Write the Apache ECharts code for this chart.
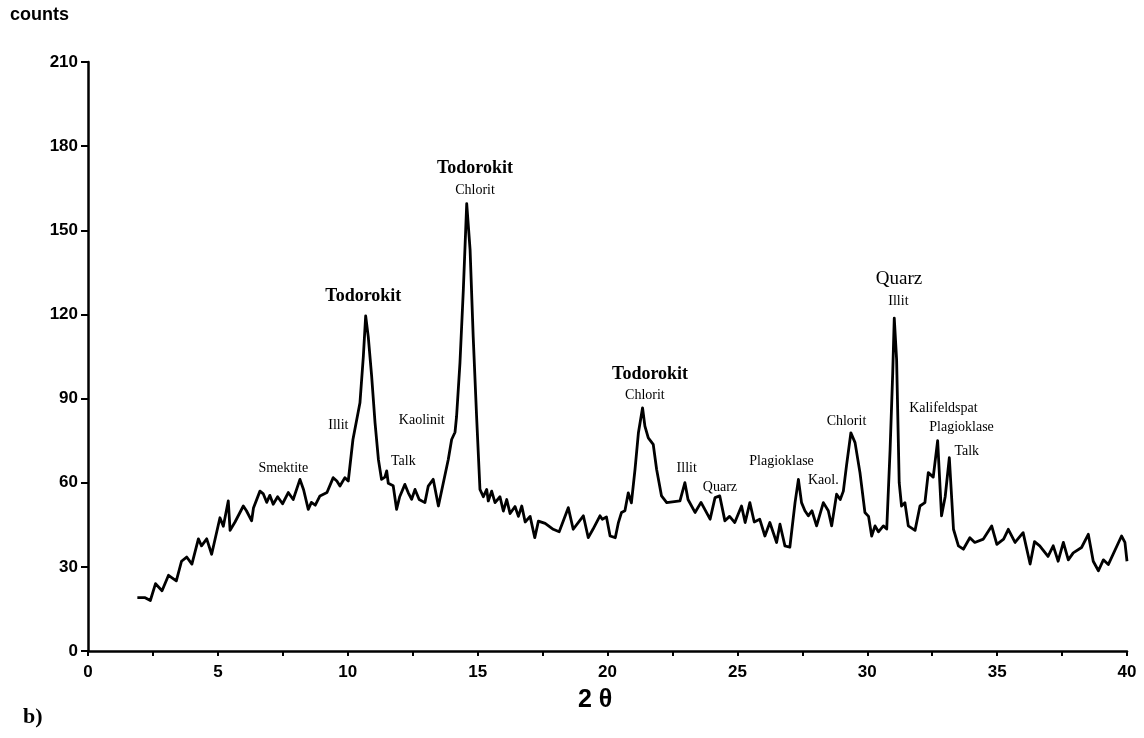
<!DOCTYPE html>
<html>
<head>
<meta charset="utf-8">
<script src="https://cdn.jsdelivr.net/npm/echarts@6/dist/echarts.min.js"></script>
<style>
html,body{margin:0;padding:0;background:#fff;}
#chart{width:1144px;height:738px;}
</style>
</head>
<body>
<div id="chart"></div>
<script>
// 2θ positions (degrees)
const twoTheta = [
1.9,2.2,2.4,2.6,2.85,3.1,3.4,3.6,3.8,4.0,4.25,4.37,4.57,4.76,5.08,5.21,5.4,5.47,5.66,5.98,
6.1,6.3,6.37,6.62,6.75,6.88,7.0,7.13,7.3,7.49,7.71,7.9,8.16,8.3,8.48,8.6,8.75,8.93,9.2,9.44,
9.58,9.7,9.89,10.02,10.2,10.47,10.6,10.69,10.79,10.92,11.05,11.18,11.3,11.43,11.5,11.56,11.75,11.88,12.0,12.2,
12.33,12.46,12.59,12.75,12.97,13.1,13.29,13.49,13.68,13.87,14.0,14.13,14.19,14.32,14.45,14.58,14.71,14.83,14.96,15.09,
15.22,15.35,15.41,15.54,15.67,15.86,15.99,16.12,16.25,16.44,16.57,16.7,16.83,17.02,17.2,17.34,17.6,17.91,18.14,18.49,
18.68,19.07,19.26,19.44,19.71,19.8,19.96,20.1,20.3,20.42,20.54,20.67,20.8,20.92,21.06,21.19,21.35,21.44,21.57,21.76,
21.89,22.08,22.28,22.79,22.98,23.1,23.37,23.6,23.95,24.14,24.32,24.52,24.7,24.9,25.16,25.3,25.48,25.65,25.86,26.06,
26.25,26.51,26.64,26.83,27.02,27.22,27.35,27.47,27.6,27.73,27.87,28.05,28.31,28.5,28.63,28.82,28.96,29.08,29.2,29.37,
29.53,29.72,29.91,30.05,30.17,30.3,30.43,30.62,30.75,30.88,30.98,31.04,31.13,31.23,31.32,31.45,31.58,31.84,32.03,32.22,
32.35,32.54,32.71,32.86,33.0,33.16,33.32,33.51,33.7,33.95,34.14,34.47,34.79,34.99,35.25,35.43,35.69,36.0,36.27,36.44,
36.64,36.96,37.16,37.35,37.55,37.74,37.93,38.25,38.51,38.7,38.9,39.09,39.28,39.79,39.92,40.0
];
// counts
const counts = [
19,19,18,24,21.5,27,25,32,33.5,31,40,37.5,40,34.5,47.5,44.5,53.5,43,46,51.7,
50,46.4,51,57,56,53,55.5,52.3,55,52.5,56.5,54,61.2,57.5,50.5,53,52,55.3,56.5,61.8,
60.6,58.8,61.8,60.6,75.4,88.5,105,119.5,112,98,81.4,68.3,61.2,62,64.2,59.8,58.9,50.5,55,59.4,
56.4,54.1,57.6,54,52.9,58.8,61.2,51.7,60,68.3,75.4,78,83.7,102.7,128.8,159.5,143,112,83.7,57.6,
55,57.6,53.5,57,52.9,55,49.9,54,49,51.5,48,51.7,46,48,40.4,46.3,45.5,43.4,42.5,51.1,
43.4,48.2,40.4,43.4,48.2,47,47.8,41,40.4,45.8,49.4,50,56.4,52.8,64.8,77.8,86.7,80.2,76,73.7,
64.8,55.3,52.9,53.5,60,54,49.4,53,47,54.7,55.3,46.4,48,45.8,51.7,45.8,52.9,46,47,41,
45.8,38.7,45.2,37.5,37,52.9,61.2,52.9,50,48.2,50,44.6,52.9,50,44.6,55.9,54,57,66,77.8,
74.3,63.6,49.4,48,41,44.6,42.5,44.6,43.5,71.9,99,118.7,104,60,51.7,52.9,44.6,43,51.7,52.9,
63.6,62,75,48.2,55,68.9,43.4,37.5,36.3,40.4,38.7,39.9,44.6,38,39.9,43.4,38.7,42.2,31,39,
37.5,33.7,37.5,32,38.7,32.5,35,36.9,41.6,32,28.6,32.5,30.8,41,38.7,32
];
// peak annotations
const peakNames = ['Todorokit','Todorokit','Chlorit','Todorokit','Chlorit','Quarz','Illit','Smektite','Illit','Kaolinit','Talk','Illit','Quarz','Plagioklase','Kaol.','Chlorit','Kalifeldspat','Plagioklase','Talk'];
const peakX = [10.6,14.9,14.9,21.64,21.44,31.22,31.2,7.52,9.64,12.85,12.14,23.05,24.33,26.7,28.31,29.2,32.93,33.63,33.83];
const peakY = [126.3,172,164.4,98.6,91.1,132.6,124.7,65,80.4,82.3,67.5,65,58.2,67.7,60.9,82,86.4,79.6,71.3];
const peakKind = ['bold','bold','small','bold','small','large','small','small','small','small','small','small','small','small','small','small','small','small','small'];
const yTicks = [0,30,60,90,120,150,180,210];

const serif = '"Liberation Serif","DejaVu Serif",serif';
const sans = '"Liberation Sans","DejaVu Sans",sans-serif';
const kindStyle = {
  bold: {fontSize: 18, fontWeight: 'bold'},
  large: {fontSize: 19, fontWeight: 'normal'},
  small: {fontSize: 14, fontWeight: 'normal'}
};

const lineData = twoTheta.map((x, i) => [x, counts[i]]);
const annData = peakNames.map((n, i) => ({
  name: n,
  value: [peakX[i], peakY[i]],
  label: Object.assign({color: '#000'}, kindStyle[peakKind[i]])
}));

const chart = echarts.init(document.getElementById('chart'), null, {renderer: 'canvas'});
chart.setOption({
  backgroundColor: '#ffffff',
  animation: false,
  grid: {left: 88, right: 17, top: 62, bottom: 87},
  xAxis: {
    type: 'value', min: 0, max: 40, interval: 5,
    axisLine: {show: true, lineStyle: {color: '#000', width: 2.5}},
    axisTick: {show: true, length: 5, lineStyle: {color: '#000', width: 2}},
    minorTick: {show: true, splitNumber: 2, length: 5, lineStyle: {color: '#000', width: 2}},
    splitLine: {show: false},
    axisLabel: {color: '#000', fontFamily: sans, fontWeight: 'bold', fontSize: 17, margin: 13}
  },
  yAxis: {
    type: 'value', min: 0, max: 210, interval: 30,
    axisLine: {show: true, onZero: false, lineStyle: {color: '#000', width: 2.5}},
    axisTick: {show: true, length: 7, lineStyle: {color: '#000', width: 2}},
    splitLine: {show: false},
    axisLabel: {color: '#000', fontFamily: sans, fontWeight: 'bold', fontSize: 17, margin: 10,
      formatter: v => yTicks.includes(v) ? String(v) : ''}
  },
  graphic: [
    {type: 'text', left: 10, top: 6, style: {text: 'counts', font: 'bold 18px ' + sans, fill: '#000'}},
    {type: 'text', left: 578, top: 688, style: {text: '2 θ', font: 'bold 25px ' + sans, fill: '#000'}},
    {type: 'text', left: 23, top: 706, style: {text: 'b)', font: 'bold 22px ' + serif, fill: '#000'}}
  ],
  series: [
    {
      type: 'line', data: lineData, showSymbol: false, symbol: 'none',
      lineStyle: {color: '#000', width: 2.8, join: 'round'}, smooth: false, z: 3
    },
    {
      type: 'scatter', data: annData, symbolSize: 0, silent: true, z: 4,
      itemStyle: {opacity: 1},
      label: {show: true, position: 'inside', formatter: p => p.name,
        color: '#000', opacity: 1, fontFamily: serif}
    }
  ]
});
</script>
</body>
</html>
